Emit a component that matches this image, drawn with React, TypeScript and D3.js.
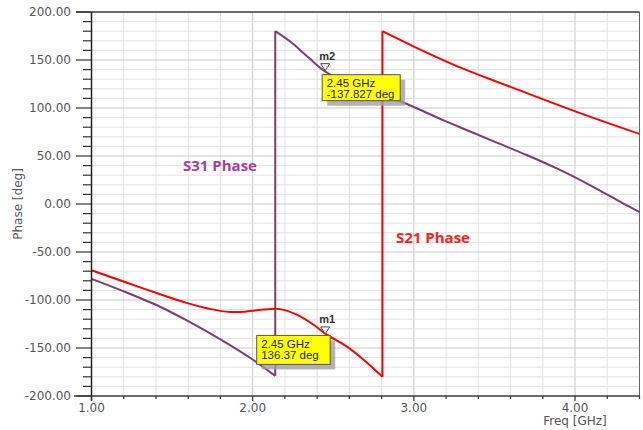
import React from 'react';
import * as d3 from 'd3';

// S31 phase trace (purple), wraps at -180 -> +180
const s31Freq = [1.0, 1.2, 1.425, 1.6, 1.8, 2.0, 2.14, 2.14, 2.25, 2.35, 2.45, 2.6, 2.75, 2.92, 3.2, 3.5, 3.7, 3.9, 4.1, 4.3, 4.4];
const s31Phase = [-78, -91, -107, -122, -141, -162, -179, 180, 167, 152, 138, 125, 115, 106.5, 86, 65, 51, 36, 19, 0.5, -8.5];

// S21 phase trace (red)
const s21Freq = [1.0, 1.22, 1.4, 1.59, 1.74, 1.86, 1.96, 2.07, 2.17, 2.27, 2.38, 2.45, 2.585, 2.69, 2.805, 2.805, 3.0, 3.29, 3.6, 4.01, 4.4];
const s21Phase = [-69, -82, -92.5, -103, -109.5, -112.5, -112, -110, -109.5, -115, -126, -135, -148.6, -162.5, -180, 180, 164, 142, 122, 96, 73];

// markers
const markerNames = ['m1', 'm2'];
const markerFreq = [2.45, 2.45];
const markerPhase = [-136.37, 137.827];
const markerLines = [['2.45 GHz', '136.37 deg'], ['2.45 GHz', '-137.827 deg']];

const yMajorTicks = [200, 150, 100, 50, 0, -50, -100, -150, -200];
const xMajorTicks = [1, 2, 3, 4];

const W = 643;
const H = 430;

const x = d3.scaleLinear().domain([1, 4.4]).range([91.5, 639.5]);
const y = d3.scaleLinear().domain([-200, 200]).range([396, 12]);

// split a trace where the phase wraps
function segments(fs: number[], ps: number[]) {
  const out: [number, number][][] = [];
  let cur: [number, number][] = [];
  fs.forEach((f, i) => {
    if (i > 0 && Math.abs(ps[i] - ps[i - 1]) > 180) {
      out.push(cur);
      cur = [];
    }
    cur.push([f, ps[i]]);
  });
  out.push(cur);
  return out;
}

const line = d3.line<[number, number]>()
  .x(d => x(d[0]))
  .y(d => y(d[1]))
  .curve(d3.curveCatmullRom.alpha(0.5));

function Trace({fs, ps, color}: {fs: number[], ps: number[], color: string}) {
  const segs = segments(fs, ps);
  return (
    <g>
      {segs.map((s, i) => (
        <path key={i} d={line(s) || ''} fill="none" stroke={color} strokeWidth={2} />
      ))}
      {segs.slice(1).map((s, i) => {
        const prev = segs[i][segs[i].length - 1];
        return <line key={'j' + i} x1={x(prev[0])} y1={y(prev[1])} x2={x(s[0][0])} y2={y(s[0][1])}
                     stroke={color} strokeWidth={2} />;
      })}
    </g>
  );
}

export default function App() {
  const xMinor = d3.range(1, 4.401, 0.2);
  const yMinor = d3.range(-200, 200.1, 10);
  const boxOff = [[-68.5, 1.5, 73.5, 29], [-3, 4, 78, 26]];

  return (
    <svg width={W} height={H} style={{position: 'absolute', left: 0, top: 0, background: '#fff'}}
         fontFamily="'DejaVu Sans', sans-serif">
      {/* grid */}
      {xMinor.map((f, i) => (
        <line key={'gx' + i} x1={x(f)} x2={x(f)} y1={y(200)} y2={y(-200)}
              stroke={Math.abs(f - Math.round(f)) < 1e-6 ? '#c8c8c8' : '#e2e2e2'} strokeWidth={1} />
      ))}
      {yMinor.map((v, i) => (
        <line key={'gy' + i} x1={x(1)} x2={x(4.4)} y1={y(v)} y2={y(v)}
              stroke={Math.round(v) % 50 === 0 ? '#c8c8c8' : '#e2e2e2'} strokeWidth={1} />
      ))}

      {/* traces */}
      <Trace fs={s31Freq} ps={s31Phase} color="#7b3f6f" />
      <Trace fs={s21Freq} ps={s21Phase} color="#ff0000" />

      {/* markers */}
      {markerNames.map((m, i) => {
        const px = x(markerFreq[i]);
        const py = y(markerPhase[i]) - 1;
        const [dx, dy, bw, bh] = boxOff[i];
        const bx = px + dx;
        const by = py + dy;
        return (
          <g key={m}>
            <path d={`M${px - 4.5},${py - 7}L${px + 4.5},${py - 7}L${px},${py}Z`} fill="#fff" stroke="#444" strokeWidth={1} />
            <text x={px + 2} y={py - 11} textAnchor="middle" fontSize={11} fontWeight="bold"
                  fontFamily="'Liberation Sans', Arial, sans-serif" fill="#333">{m}</text>
            <rect x={bx + 5} y={by + 5} width={bw} height={bh} fill="#a0a0a0" opacity={0.8} />
            <rect x={bx} y={by} width={bw} height={bh} fill="#ffff00" stroke="#555" strokeWidth={1} />
            {markerLines[i].map((t, k) => (
              <text key={k} x={bx + 4.5} y={by + (bh > 27 ? 12.5 + k * 11.5 : 12.5 + k * 10.5)} fontSize={11.5}
                    fontFamily="'Liberation Sans', Arial, sans-serif" fill="#222">{t}</text>
            ))}
          </g>
        );
      })}

      {/* trace labels */}
      <text x={183} y={171} fontSize={15} fontWeight="bold" fontFamily="'Open Sans', sans-serif" fill="#a8409c">S31 Phase</text>
      <text x={396} y={243} fontSize={15} fontWeight="bold" fontFamily="'Open Sans', sans-serif" fill="#ff2020">S21 Phase</text>

      {/* frame and axes */}
      <line x1={x(4.4)} x2={x(4.4)} y1={y(200)} y2={y(-200)} stroke="#666" strokeWidth={1} />
      <line x1={76} x2={x(4.4)} y1={y(200)} y2={y(200)} stroke="#444" strokeWidth={1.5} />
      <line x1={74} x2={x(4.4)} y1={y(-200)} y2={y(-200)} stroke="#444" strokeWidth={1.5} />
      <line x1={x(1)} x2={x(1)} y1={y(200)} y2={y(-200) + 5} stroke="#222" strokeWidth={1.5} />
      {yMinor.map((v, i) => (
        <line key={'ty' + i} x1={Math.round(v) % 50 === 0 ? 76 : 83} x2={x(1)} y1={y(v)} y2={y(v)}
              stroke="#333" strokeWidth={1.2} />
      ))}
      {xMinor.map((f, i) => (
        <line key={'tx' + i} x1={x(f)} x2={x(f)} y1={y(-200)} y2={y(-200) + (Math.abs(f - Math.round(f)) < 1e-6 ? 5 : 3)}
              stroke="#333" strokeWidth={1.2} />
      ))}
      {yMajorTicks.map(v => (
        <text key={'ly' + v} x={71} y={y(v)} dy="0.35em" textAnchor="end" fontSize={12} fill="#555">{v.toFixed(2)}</text>
      ))}
      {xMajorTicks.map(f => (
        <text key={'lx' + f} x={x(f)} y={408} dy="0.35em" textAnchor="middle" fontSize={12} fill="#555">{f.toFixed(2)}</text>
      ))}
      <text x={x(4)} y={421} dy="0.35em" textAnchor="middle" fontSize={12} fill="#555">Freq [GHz]</text>
      <text transform="translate(18,204) rotate(-90)" textAnchor="middle" dy="0.35em" fontSize={12} fill="#555">Phase [deg]</text>
    </svg>
  );
}
